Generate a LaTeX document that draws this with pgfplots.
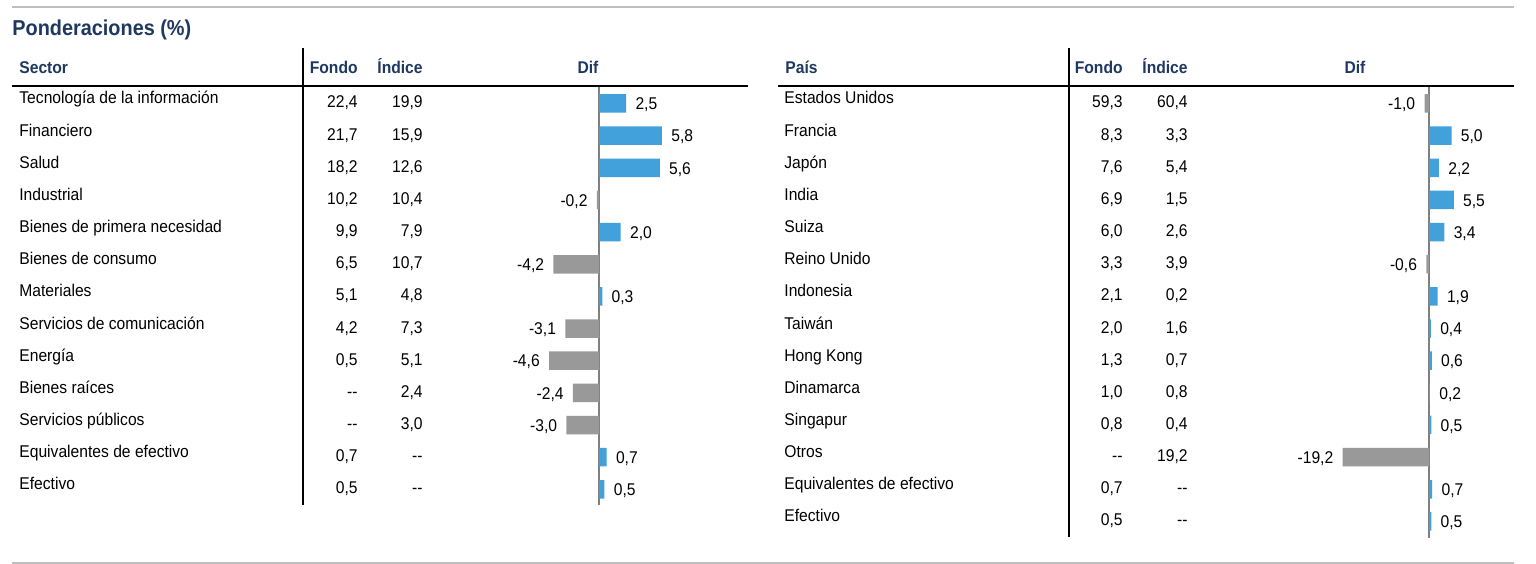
\documentclass[border=0pt]{standalone}
\usepackage{fontspec}
\setmainfont{Liberation Sans}[FakeStretch=0.92]
\usepackage{pgfplots}
\pgfplotsset{compat=1.18}

\definecolor{hdr}{RGB}{31,56,96}
\definecolor{barblue}{RGB}{66,160,218}
\definecolor{bargray}{RGB}{153,153,153}
\definecolor{rulegray}{RGB}{191,191,191}
\definecolor{zerogray}{RGB}{128,128,128}

\newcommand\body{\fontsize{8.5bp}{10bp}\selectfont}
\newcommand\nd{-\kern0pt-}

\pgfplotsset{difaxis/.style={
  xbar, bar width=9.25bp, bar shift=0pt, scale only axis,
  y dir=reverse, ymin=0.5,
  axis line style={draw=none}, tick style={draw=none},
  ytick=\empty, xtick={0}, xticklabels={}, xmajorgrids,
  major grid style={zerogray, line width=1bp},
  clip=false,
  /pgf/number format/assume math mode=true,
  point meta=x,
  nodes near coords={\pgfmathprintnumber[fixed,fixed zerofill,precision=1,use comma]{\pgfplotspointmeta}},
  nodes near coords align=horizontal,
  every node near coord/.append style={font=\body, text=black, inner sep=4.5bp, yshift=-0.7bp},
}}

% one table row: index from 0, label, Fondo, Indice; #5 = x offset of the table
\newcommand\trow[5]{%
  \node[t, anchor=base west] at ({#5+19},{104+32.15*#1}) {#2};
  \node[t, anchor=base east] at ({#5+358},{108+32.15*#1}) {#3};
  \node[t, anchor=base east] at ({#5+423},{108+32.15*#1}) {#4};}

\begin{document}
\begin{tikzpicture}[x=0.5bp, y=-0.5bp,
  t/.style={font=\body, inner sep=0pt},
  h/.style={font=\body\bfseries, text=hdr, inner sep=0pt}]
\useasboundingbox (0,0) rectangle (1536,564);

% rules
\draw[rulegray, line width=1bp] (12,7) -- (1514,7);
\draw[rulegray, line width=1bp] (12,563) -- (1514,563);
\draw[black, line width=1bp] (12,86) -- (748,86);
\draw[black, line width=1bp] (778,86) -- (1514,86);
\draw[black, line width=1bp] (303,48) -- (303,505);
\draw[black, line width=1bp] (1069,48) -- (1069,537);

% title and headers
\node[font=\fontsize{10.8bp}{12bp}\selectfont\bfseries, text=hdr, inner sep=0pt, anchor=base west] at (12,36) {Ponderaciones (\%)};
\node[h, anchor=base west] at (19,74) {Sector};
\node[h, anchor=base east] at (358,74) {Fondo};
\node[h, anchor=base east] at (423,74) {Índice};
\node[h, anchor=base] at (588,74) {Dif};
\node[h, anchor=base west] at (785,74) {País};
\node[h, anchor=base east] at (1123,74) {Fondo};
\node[h, anchor=base east] at (1188,74) {Índice};
\node[h, anchor=base] at (1355,74) {Dif};

% left table
\trow{0}{Tecnología de la información}{22,4}{19,9}{0}
\trow{1}{Financiero}{21,7}{15,9}{0}
\trow{2}{Salud}{18,2}{12,6}{0}
\trow{3}{Industrial}{10,2}{10,4}{0}
\trow{4}{Bienes de primera necesidad}{9,9}{7,9}{0}
\trow{5}{Bienes de consumo}{6,5}{10,7}{0}
\trow{6}{Materiales}{5,1}{4,8}{0}
\trow{7}{Servicios de comunicación}{4,2}{7,3}{0}
\trow{8}{Energía}{0,5}{5,1}{0}
\trow{9}{Bienes raíces}{\nd}{2,4}{0}
\trow{10}{Servicios públicos}{\nd}{3,0}{0}
\trow{11}{Equivalentes de efectivo}{0,7}{\nd}{0}
\trow{12}{Efectivo}{0,5}{\nd}{0}

% right table
\trow{0}{Estados Unidos}{59,3}{60,4}{765}
\trow{1}{Francia}{8,3}{3,3}{765}
\trow{2}{Japón}{7,6}{5,4}{765}
\trow{3}{India}{6,9}{1,5}{765}
\trow{4}{Suiza}{6,0}{2,6}{765}
\trow{5}{Reino Unido}{3,3}{3,9}{765}
\trow{6}{Indonesia}{2,1}{0,2}{765}
\trow{7}{Taiwán}{2,0}{1,6}{765}
\trow{8}{Hong Kong}{1,3}{0,7}{765}
\trow{9}{Dinamarca}{1,0}{0,8}{765}
\trow{10}{Singapur}{0,8}{0,4}{765}
\trow{11}{Otros}{\nd}{19,2}{765}
\trow{12}{Equivalentes de efectivo}{0,7}{\nd}{765}
\trow{13}{Efectivo}{0,5}{\nd}{765}

% sector differences
\begin{axis}[difaxis, at={(272.375bp,-252.7bp)}, anchor=south west,
  width=65.1bp, height=209bp, xmin=-5, xmax=7, ymax=13.5]
\addplot[fill=barblue, draw=none] coordinates {(2.5,1) (5.8,2) (5.6,3) (2.0,5) (0.3,7) (0.7,12) (0.5,13)};
\addplot[fill=bargray, draw=none] coordinates {(-0.2,4) (-4.2,6) (-3.1,8) (-4.6,9) (-2.4,10) (-3.0,11)};
\end{axis}

% country differences
\begin{axis}[difaxis, at={(667.25bp,-268.75bp)}, anchor=south west,
  width=63bp, height=225.05bp, xmin=-21, xmax=7, ymax=14.5]
\addplot[fill=barblue, draw=none] coordinates {(5.0,2) (2.2,3) (5.5,4) (3.4,5) (1.9,7) (0.4,8) (0.6,9) (0.2,10) (0.5,11) (0.7,13) (0.5,14)};
\addplot[fill=bargray, draw=none] coordinates {(-1.0,1) (-0.6,6) (-19.2,12)};
\end{axis}
\end{tikzpicture}
\end{document}
